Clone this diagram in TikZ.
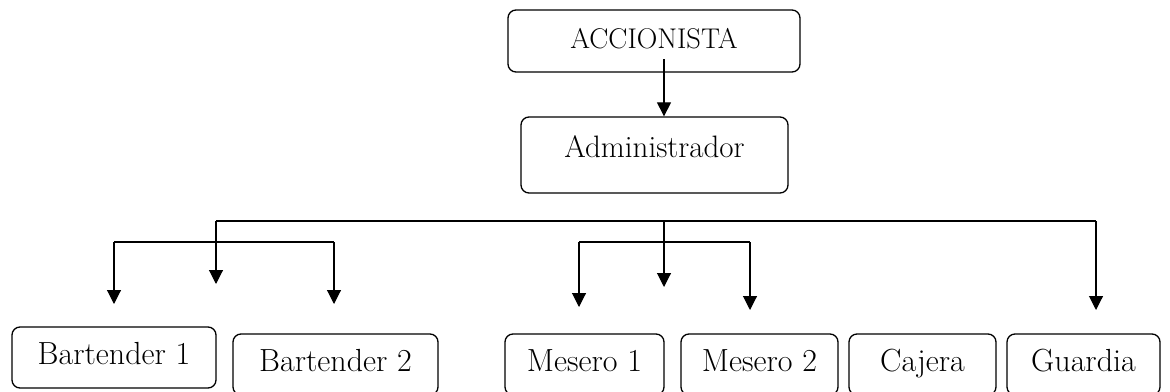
\documentclass[tikz,border=0pt]{standalone}
\usepackage{fontspec}
\usetikzlibrary{arrows.meta}
\begin{document}
\begin{tikzpicture}[x=1pt,y=-1pt,
  box/.style={draw,line width=1.3pt,rounded corners=8pt,inner sep=0pt,
    font=\fontsize{32}{38}\selectfont},
  bot/.style={box,minimum height=61pt,text height=22pt,text depth=8pt},
  link/.style={line width=1.1pt},
  arr/.style={link,-{Triangle[width=14pt,length=14pt]}}]
\clip (0,0) rectangle (1170,391);
% nodes
\node[box,minimum width=292pt,minimum height=62pt,font=\fontsize{28.5}{34}\selectfont,
  text height=19.5pt,text depth=5.5pt] (acc) at (654,41) {ACCIONISTA};
\node[box,minimum width=267pt,minimum height=76pt,font=\fontsize{31}{37}\selectfont,
  text height=21.5pt,text depth=17.5pt] (adm) at (654.5,155) {Administrador};
\node[bot,minimum width=204pt] (b1) at (114,357.5) {Bartender 1};
\node[bot,minimum width=205pt] (b2) at (335.5,364.5) {Bartender 2};
\node[bot,minimum width=159pt] (m1) at (584.5,364.5) {Mesero 1};
\node[bot,minimum width=157pt] (m2) at (759.5,364.5) {Mesero 2};
\node[bot,minimum width=147pt] (caj) at (922.5,364.5) {Cajera};
\node[bot,minimum width=153pt] (gua) at (1083.5,364.5) {Guardia};
% coordinates
\coordinate (a1) at (664,59);
\coordinate (hL) at (216,221);
\coordinate (hM) at (664,221);
\coordinate (hR) at (1096,221);
\coordinate (tL) at (216,284);
\coordinate (tM) at (664,287);
\coordinate (tR) at (1096,310);
\coordinate (bbL) at (114,242);
\coordinate (bbR) at (334,242);
\coordinate (bbLt) at (114,304);
\coordinate (bbRt) at (334,304);
\coordinate (mbL) at (579,242);
\coordinate (mbR) at (750,242);
\coordinate (mbLt) at (579,307);
\coordinate (mbRt) at (750,310);
% connectors
\draw[arr] (a1) -- (a1 |- adm.north);
\draw[link] (hL) -- (hR);
\draw[arr] (hL) -- (tL);
\draw[arr] (hM) -- (tM);
\draw[arr] (hR) -- (tR);
\draw[link] (bbL) -- (bbR);
\draw[arr] (bbL) -- (bbLt);
\draw[arr] (bbR) -- (bbRt);
\draw[link] (mbL) -- (mbR);
\draw[arr] (mbL) -- (mbLt);
\draw[arr] (mbR) -- (mbRt);
\end{tikzpicture}
\end{document}
